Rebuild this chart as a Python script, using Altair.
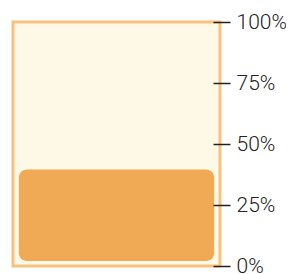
import altair as alt
import pandas as pd

categories = ["progress"]
values = [0.395]
tick_values = [0, 0.25, 0.5, 0.75, 1.0]

df = pd.DataFrame({"cat": categories, "value": values})

chart = alt.Chart(df).mark_bar(
    color="#F0AA55",
    cornerRadius=8,
    y2Offset=-5,
).encode(
    x=alt.X("cat:N", axis=None, scale=alt.Scale(paddingInner=0, paddingOuter=0.03)),
    y=alt.Y(
        "value:Q",
        scale=alt.Scale(domain=[0, 1]),
        axis=alt.Axis(
            orient="right",
            values=tick_values,
            format=".0%",
            domain=False,
            grid=False,
            offset=-7,
            tickSize=17,
            tickColor="#222222",
            tickWidth=1.5,
            labelPadding=6,
            labelFont="Roboto",
            labelFontWeight=300,
            labelFontSize=21,
            labelColor="#222222",
            title=None,
            zindex=1,
        ),
    ),
    y2=alt.datum(0),
).properties(
    width=207,
    height=244,
    padding={"left": 5, "top": 14, "right": 66, "bottom": 8},
    autosize=alt.AutoSizeParams(type="none"),
).configure_view(
    fill="#FEF9E7",
    stroke="#F6C27E",
    strokeWidth=3,
)

chart.save("out.html", embed_options={"renderer": "svg", "actions": False})
